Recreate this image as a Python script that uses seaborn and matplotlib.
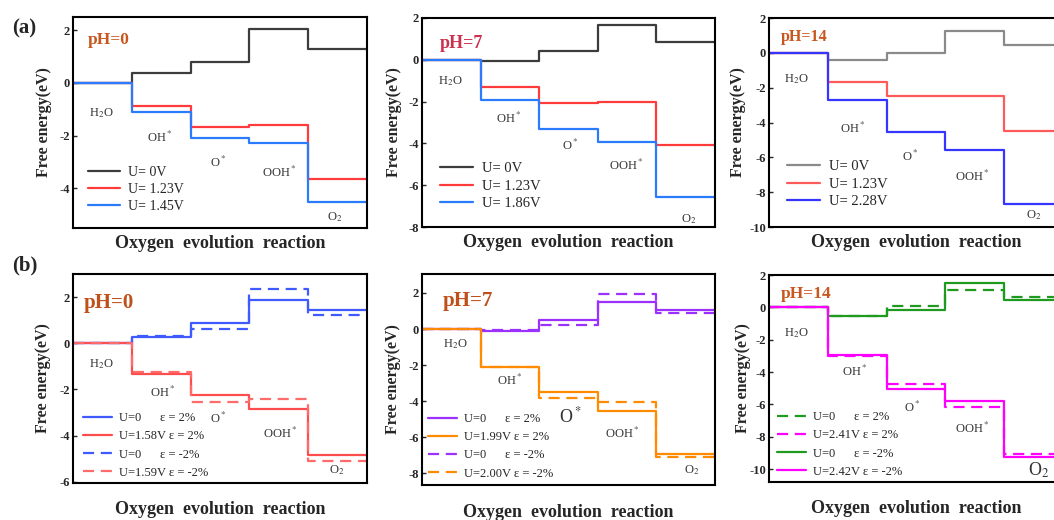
import matplotlib
matplotlib.use("Agg")
import matplotlib.pyplot as plt
import pandas as pd
import seaborn as sns

W, H = 1054, 520

species = ["H$_2$O", "OH$^*$", "O$^*$", "OOH$^*$", "O$_2$"]
steps = [0, 1, 2, 3, 4, 5]

# (a) free energy levels: H2O, OH*, O*, OOH*, O2
a_ph0_u0 = [0, 0.36, 0.79, 2.06, 1.27]
a_ph0_u123 = [0, -0.87, -1.66, -1.61, -3.64]
a_ph0_u145 = [0, -1.09, -2.10, -2.28, -4.52]

a_ph7_u0 = [0, -0.06, 0.40, 1.66, 0.86]
a_ph7_u123 = [0, -1.29, -2.07, -2.03, -4.06]
a_ph7_u186 = [0, -1.91, -3.33, -3.92, -6.58]

a_ph14_u0 = [0, -0.44, 0.0, 1.25, 0.44]
a_ph14_u123 = [0, -1.68, -2.48, -2.45, -4.48]
a_ph14_u228 = [0, -2.71, -4.57, -5.60, -8.68]

# (b) strained surfaces
b_ph0_u0_p2 = [0, 0.26, 0.87, 1.87, 1.44]
b_ph0_u158_p2 = [0, -1.31, -2.25, -2.86, -4.85]
b_ph0_u0_m2 = [0, 0.32, 0.60, 2.33, 1.24]
b_ph0_u159_m2 = [0, -1.26, -2.56, -2.43, -5.08]

b_ph7_u0_p2 = [0, -0.11, 0.50, 1.48, 1.05]
b_ph7_u199_p2 = [0, -2.12, -3.50, -4.52, -6.95]
b_ph7_u0_m2 = [0, -0.08, 0.20, 1.95, 0.90]
b_ph7_u200_m2 = [0, -2.08, -3.80, -4.05, -7.12]

b_ph14_u0_p2 = [0, -0.56, 0.10, 1.08, 0.64]
b_ph14_u241_p2 = [0, -2.99, -4.75, -6.15, -9.05]
b_ph14_u0_m2 = [0, -0.53, -0.18, 1.50, 0.48]
b_ph14_u242_m2 = [0, -2.97, -5.05, -5.78, -9.25]

EPS = "\u03b5"


def lab(u, eps):
    return f"{u}{' ' * (12 - 2 * len(u)) if u == 'U=0' else ' '}{EPS} = {eps}"


panels = [
    dict(box=(73, 17, 367, 228), ylim=(-5.5, 2.5), yticks=[-4, -2, 0, 2],
         ph="pH=0", ph_color="#c8561e", ph_pos=(0.05, 0.89), ph_size=12.5,
         series=[(a_ph0_u0, "#3c3c3c", "U= 0V", False),
                 (a_ph0_u123, "#ff3b3b", "U= 1.23V", False),
                 (a_ph0_u145, "#2b7bff", "U= 1.45V", False)],
         spos=[(0.48, -1.15), (1.47, -2.06), (2.47, -3.03), (3.51, -3.38), (4.45, -5.07)],
         big=[], leg=(0.05, 0.07), leg_size=10, lsp=0.3, ylab_x=-0.071, xpad=5),
    dict(box=(422, 18, 715, 227), ylim=(-8, 2), yticks=[-8, -6, -4, -2, 0, 2],
         ph="pH=7", ph_color="#cf3050", ph_pos=(0.06, 0.88), ph_size=13,
         series=[(a_ph7_u0, "#3c3c3c", "U= 0V", False),
                 (a_ph7_u123, "#ff3b3b", "U= 1.23V", False),
                 (a_ph7_u186, "#2b7bff", "U= 1.86V", False)],
         spos=[(0.48, -1.04), (1.48, -2.8), (2.53, -4.08), (3.49, -5.04), (4.55, -7.6)],
         big=[], leg=(0.06, 0.08), leg_size=10.5, lsp=0.3, ylab_x=-0.068, xpad=5),
    dict(box=(769, 18, 1063, 227), ylim=(-10, 2), yticks=[-10, -8, -6, -4, -2, 0, 2],
         ph="pH=14", ph_color="#c8561e", ph_pos=(0.04, 0.91), ph_size=11.5,
         series=[(a_ph14_u0, "#8a8a8a", "U= 0V", False),
                 (a_ph14_u123, "#ff5a5a", "U= 1.23V", False),
                 (a_ph14_u228, "#3535ff", "U= 2.28V", False)],
         spos=[(0.47, -1.5), (1.43, -4.33), (2.4, -5.96), (3.45, -7.08), (4.5, -9.33)],
         big=[], leg=(0.06, 0.09), leg_size=10.5, lsp=0.3, ylab_x=-0.078, xpad=5),
    dict(box=(73, 274, 367, 483), ylim=(-6.05, 3.0), yticks=[-6, -4, -2, 0, 2],
         ph="pH=0", ph_color="#c0501a", ph_pos=(0.035, 0.86), ph_size=15,
         series=[(b_ph0_u0_p2, "#3f5bff", lab("U=0", "2%"), False),
                 (b_ph0_u158_p2, "#ff4d4d", lab("U=1.58V", "2%"), False),
                 (b_ph0_u0_m2, "#3f5bff", lab("U=0", "-2%"), True),
                 (b_ph0_u159_m2, "#ff6a6a", lab("U=1.59V", "-2%"), True)],
         spos=[(0.48, -0.89), (1.53, -2.13), (2.47, -3.27), (3.52, -3.89), (4.49, -5.5)],
         big=[], leg=(0.034, 0.02), leg_size=9, lsp=0.5, ylab_x=-0.075, xpad=13),
    dict(box=(422, 274, 715, 485), ylim=(-8.65, 3.05), yticks=[-8, -6, -4, -2, 0, 2],
         ph="pH=7", ph_color="#c0501a", ph_pos=(0.07, 0.87), ph_size=15,
         series=[(b_ph7_u0_p2, "#9b30ff", lab("U=0", "2%"), False),
                 (b_ph7_u199_p2, "#ff8c00", lab("U=1.99V", "2%"), False),
                 (b_ph7_u0_m2, "#9b30ff", lab("U=0", "-2%"), True),
                 (b_ph7_u200_m2, "#ff8c00", lab("U=2.00V", "-2%"), True)],
         spos=[(0.57, -0.83), (1.5, -2.86), (2.53, -4.82), (3.41, -5.77), (4.6, -7.8)],
         big=[2], leg=(0.02, 0.025), leg_size=9, lsp=0.5, ylab_x=-0.072, xpad=14),
    dict(box=(769, 275, 1063, 482), ylim=(-10.8, 2.0), yticks=[-10, -8, -6, -4, -2, 0, 2],
         ph="pH=14", ph_color="#c8561e", ph_pos=(0.04, 0.91), ph_size=12.5,
         series=[(b_ph14_u0_p2, "#1e9a1e", lab("U=0", "2%"), True),
                 (b_ph14_u241_p2, "#ff00ff", lab("U=2.41V", "2%"), True),
                 (b_ph14_u0_m2, "#1e9a1e", lab("U=0", "-2%"), False),
                 (b_ph14_u242_m2, "#ff00ff", lab("U=2.42V", "-2%"), False)],
         spos=[(0.47, -1.57), (1.46, -3.97), (2.43, -6.17), (3.45, -7.49), (4.58, -10.1)],
         big=[4], leg=(0.027, 0.02), leg_size=9, lsp=0.5, ylab_x=-0.061, xpad=13),
]

sns.set_theme(style="white")
plt.rcParams["font.family"] = ["Liberation Serif", "DejaVu Serif"]
plt.rcParams["mathtext.fontset"] = "stix"
plt.rcParams["axes.unicode_minus"] = False
plt.rcParams["axes.edgecolor"] = "black"
plt.rcParams["axes.linewidth"] = 1.5

fig = plt.figure(figsize=(W / 100, H / 100), dpi=100)


def rect(x0, y0, x1, y1):
    return [x0 / W, 1 - y1 / H, (x1 - x0) / W, (y1 - y0) / H]


for p in panels:
    ax = fig.add_axes(rect(*p["box"]))
    for vals, color, label, dashed in p["series"]:
        df = pd.DataFrame({"step": steps, "G": list(vals) + [vals[-1]]})
        sns.lineplot(data=df, x="step", y="G", drawstyle="steps-post", color=color,
                     linestyle=(0, (5, 3)) if dashed else "-", linewidth=1.6,
                     label=label, errorbar=None, ax=ax)
    ax.set_xlim(0, 5)
    ax.set_ylim(*p["ylim"])
    ax.set_xticks([])
    ax.set_yticks(p["yticks"])
    ax.tick_params(axis="y", direction="in", length=3, width=1, labelsize=9, pad=2, left=True)
    for t in ax.get_yticklabels():
        t.set_fontweight("bold")
    ax.set_ylabel("Free energy(eV)", fontsize=11.5, fontweight="bold")
    ax.yaxis.set_label_coords(p["ylab_x"], 0.5)
    ax.set_xlabel("Oxygen  evolution  reaction", fontsize=13, fontweight="bold",
                  labelpad=p["xpad"])
    ax.text(*p["ph_pos"], p["ph"], transform=ax.transAxes, color=p["ph_color"],
            fontsize=p["ph_size"], fontweight="bold", ha="left", va="center")
    for i, (name, (sx, sy)) in enumerate(zip(species, p["spos"])):
        ax.text(sx, sy, name, ha="center", va="center", color="#333333",
                fontsize=13 if i in p["big"] else 9)
    ax.legend(loc="lower left", bbox_to_anchor=p["leg"], frameon=False,
              fontsize=p["leg_size"], borderpad=0, borderaxespad=0,
              handlelength=2.3, handletextpad=0.6, labelspacing=p["lsp"])
    for s in ax.spines.values():
        s.set_linewidth(1.5)
        s.set_color("black")

fig.text(12 / W, 1 - 28 / H, "(a)", fontsize=15, fontweight="bold", va="center")
fig.text(12 / W, 1 - 265 / H, "(b)", fontsize=15, fontweight="bold", va="center")

fig.savefig("out.png", dpi=100)
